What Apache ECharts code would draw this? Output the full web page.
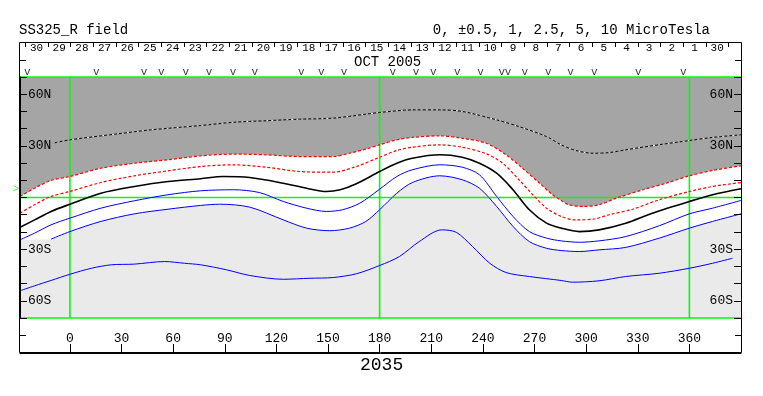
<!DOCTYPE html>
<html>
<head>
<meta charset="utf-8">
<title>SS325_R field</title>
<script src="https://cdn.jsdelivr.net/npm/echarts@6/dist/echarts.min.js"></script>
<style>
  html, body { margin: 0; padding: 0; background: #fff; }
  #chart { width: 763px; height: 396px; }
</style>
</head>
<body>
<div id="chart"></div>
<script>
// carrington longitude ticks
var lonTicks = [0, 30, 60, 90, 120, 150, 180, 210, 240, 270, 300, 330, 360];
var latLabelValues = [60, 30, -30, -60];
var latLabelText = ['60N', '30N', '30S', '60S'];
// green reference lines
var gridLons = [0, 180, 360];
var gridLats = [-70, 0, 70];
// days of central meridian passage, oct 2005 (read right to left)
var dayLabels = ['30', '29', '28', '27', '26', '25', '24', '23', '22', '21', '20', '19', '18', '17', '16',
  '15', '14', '13', '12', '11', '10', '9', '8', '7', '6', '5', '4', '3', '2', '1', '30'];
// "v" marks along the top
var footLons = [-24.8, 15.3, 43.1, 53.1, 67.3, 80.8, 94.8, 107.4, 134.5, 146.1, 159.3, 187.6, 201.1,
  211.2, 225.1, 238.7, 251.0, 254.6, 264.4, 278.0, 291.0, 304.7, 330.3, 356.5];
var earthLat = 4.6;

// contours [lon, lat]
var dottedLine = [[-10, 31.5], [0, 33.5], [28, 37.0], [47, 39.3], [76, 41.8], [95, 43.7], [114, 44.6],
  [133.5, 45.5], [153, 46.1], [172, 48.4], [180, 49.4], [199, 50.9], [215, 50.9], [228, 50.0],
  [248, 45.1], [261, 41.2], [277, 35.4], [285.5, 30.6], [294, 27.3], [304, 25.7], [313.5, 26.1],
  [323, 27.7], [342, 30.6], [360, 33.1], [373.5, 34.9], [390, 36.4]];
var redOuter = [[-29, 0.6], [-20.5, 5.4], [-11, 9.9], [0, 12.2], [18, 17.0], [37.5, 19.9], [57, 21.9],
  [76, 24.2], [95, 25.2], [114, 24.8], [133.5, 23.8], [153, 23.8], [162.5, 25.7], [172, 28.1],
  [180, 30.6], [190, 33.5], [199, 34.9], [215, 35.8], [228, 34.4], [242, 31.5], [253.5, 24.8],
  [263, 17.0], [273, 8.3], [280.5, 1.6], [285.5, -1.7], [290, -4.2], [298, -5.2], [307.5, -4.2],
  [317.5, -0.4], [333, 4.5], [346.5, 8.3], [360, 12.6], [373.5, 15.7], [390, 18.4]];
var redInner = [[-29, -9.1], [-20.5, -4.2], [-11, 0.6], [0, 3.5], [18, 8.7], [37.5, 12.6], [57, 15.5],
  [76, 18.0], [95, 19.0], [114, 17.6], [133.5, 15.1], [153, 14.7], [166.5, 18.0], [180, 23.4],
  [190, 27.3], [199, 29.2], [215, 30.6], [228, 29.2], [242, 25.4], [251.5, 19.9], [261, 10.3],
  [269, 1.6], [277, -6.2], [285.5, -11.0], [294, -13.0], [304, -12.6], [313.5, -10.0], [327, -6.8],
  [342.5, -1.3], [360, 3.5], [373.5, 6.4], [390, 8.7]];
var blackLine = [[-29, -17.3], [-20.5, -13.0], [-11, -8.1], [0, -3.9], [18, 2.5], [37.5, 6.4], [57, 9.3],
  [76, 10.9], [89, 12.2], [104.5, 11.6], [124, 8.3], [137.5, 5.4], [149, 3.5], [157, 4.5], [166.5, 8.0],
  [180, 15.1], [190, 19.9], [199, 22.8], [215, 24.8], [228, 23.4], [238, 19.9], [248, 14.1],
  [257.5, 4.5], [267, -7.1], [277, -14.9], [285.5, -17.8], [296, -19.8], [307.5, -18.8], [323, -14.9],
  [338.5, -9.1], [360, -2.3], [373.5, 1.6], [390, 5.1]];
var blueInner = [[-29, -24.6], [-20.5, -20.7], [-11, -15.9], [0, -12.0], [18, -6.2], [37.5, -1.9],
  [57, 1.6], [76, 3.9], [95, 4.5], [110, 2.9], [124, -2.3], [137.5, -6.2], [149, -8.1], [158.5, -7.1],
  [168.5, -3.3], [180, 4.8], [190, 12.2], [199, 16.1], [215, 19.0], [228, 17.6], [238, 13.2],
  [248, 0.6], [257.5, -11.0], [267, -19.8], [277, -23.6], [285.5, -25.2], [296, -26.0], [307.5, -25.2],
  [323, -22.7], [342.5, -16.4], [360, -9.5], [373.5, -6.2], [390, -1.7]];
var blueMid = [[-11, -24.2], [0, -19.8], [18, -13.9], [37.5, -9.5], [57, -6.8], [76, -4.6], [87, -3.9],
  [104.5, -5.6], [124, -13.0], [137.5, -17.8], [151, -19.3], [162.5, -17.8], [172, -13.9], [180, -7.1],
  [190, 2.5], [199, 8.7], [215, 12.6], [228, 10.3], [238, 5.4], [248, -5.2], [257.5, -16.8],
  [267, -25.6], [277, -29.5], [285.5, -30.8], [296, -31.4], [307.5, -30.4], [323, -29.0],
  [342.5, -23.6], [360, -17.8], [373.5, -13.9], [390, -9.5]];
var lightEdgeLeft = [[-29, -24.6], [-20, -24.4]];
var blueOuter = [[-29, -54.2], [-20.5, -51.3], [-11, -48.2], [0, -44.6], [12.5, -41.1], [24, -39.1],
  [37.5, -38.7], [55, -37.2], [66.5, -38.2], [76, -39.1], [91, -42.0], [104.5, -45.3], [124, -47.5],
  [139.5, -46.9], [153, -46.5], [166.5, -44.3], [180, -39.5], [191.5, -34.3], [203, -25.6],
  [216, -18.8], [224.5, -20.2], [234, -28.5], [244, -38.2], [253.5, -43.6], [267, -45.9],
  [285.5, -48.2], [292, -49.2], [307.5, -48.4], [323, -45.9], [342.5, -44.0], [360, -41.1],
  [373.5, -38.2], [385, -35.3]];

var FONT = 'Liberation Mono';
var GREEN = '#00ff00';

function curve(data, color, width, type, z) {
  return {
    type: 'line', data: data, smooth: 0.3, symbol: 'none', silent: true, z: z || 3,
    lineStyle: { color: color, width: width, type: type || 'solid' }
  };
}

function greenLine(data) {
  return {
    type: 'line', data: data, symbol: 'none', silent: true, z: 2, clip: false,
    lineStyle: { color: GREEN, width: 1.6 }
  };
}

function latLabel(v) {
  var i = latLabelValues.indexOf(v);
  return i < 0 ? '' : latLabelText[i];
}

var myChart = echarts.init(document.getElementById('chart'));

var series = [
  // dark region above the outer red line
  {
    type: 'line', data: redOuter, smooth: 0.3, symbol: 'none', silent: true, z: 1,
    lineStyle: { opacity: 0 }, areaStyle: { color: '#a5a5a5', origin: 'end', opacity: 1 }
  },
  // light region below the middle blue line
  {
    type: 'line', data: lightEdgeLeft.concat(blueMid), smooth: 0.3, symbol: 'none', silent: true, z: 1,
    lineStyle: { opacity: 0 }, areaStyle: { color: '#eaeaea', origin: 'start', opacity: 1 }
  }
];
gridLons.forEach(function (l) { series.push(greenLine([[l, -70], [l, 70]])); });
gridLats.forEach(function (b) { series.push(greenLine([[-29, b], [390, b]])); });
series.push(
  curve(dottedLine, '#000', 1, 'solid'),
  curve(dottedLine, '#fff', 1, [2, 3], 4),
  curve(redOuter, '#ff0000', 1.2, [3, 2]),
  curve(redInner, '#ff0000', 1.2, [3, 2]),
  curve(blackLine, '#000', 1.6, 'solid'),
  curve(blueInner, '#0000ff', 1, 'solid'),
  curve(blueMid, '#0000ff', 1, 'solid'),
  curve(blueOuter, '#0000ff', 1, 'solid'),
  {
    type: 'scatter', clip: false, silent: true, symbolSize: 1, z: 6,
    itemStyle: { color: 'rgba(0,0,0,0)' },
    data: footLons.map(function (l) { return [l, 72.6]; }),
    label: { show: true, position: 'inside', formatter: 'v', fontFamily: FONT, fontSize: 11, color: '#000' }
  },
  {
    type: 'scatter', clip: false, silent: true, symbolSize: 1, z: 6,
    itemStyle: { color: 'rgba(0,0,0,0)' },
    data: [[-31.3, earthLat]],
    label: { show: true, position: 'inside', formatter: '>', fontFamily: FONT, fontSize: 10, color: GREEN }
  }
);

var option = {
  animation: false,
  backgroundColor: '#fff',
  textStyle: { fontFamily: FONT, color: '#000' },
  title: [
    { text: 'SS325_R field', left: 14, top: 18, textStyle: { fontFamily: FONT, fontSize: 14, fontWeight: 'normal', color: '#000' } },
    { text: '0, \u00b10.5, 1, 2.5, 5, 10 MicroTesla', right: 48, top: 18, textStyle: { fontFamily: FONT, fontSize: 14, fontWeight: 'normal', color: '#000' } }
  ],
  grid: [
    { left: 20, top: 77, width: 721, height: 241 },
    { left: 25.15, top: 42, width: 703.4, height: 1 }
  ],
  xAxis: [
    {
      type: 'value', min: -29, max: 390, position: 'bottom', offset: 35, z: 5,
      axisLine: { show: true, onZero: false, lineStyle: { color: '#000', width: 1 } },
      axisTick: { show: true, inside: true, length: 9, customValues: lonTicks, lineStyle: { color: '#000' } },
      axisLabel: { inside: true, margin: 8, customValues: lonTicks, fontFamily: FONT, fontSize: 13, color: '#000' },
      splitLine: { show: false }
    },
    {
      gridIndex: 1, type: 'category', position: 'top', data: dayLabels, boundaryGap: true,
      axisLine: { show: false, onZero: false },
      axisTick: { show: true, inside: true, length: 5, lineStyle: { color: '#000' } },
      axisLabel: { inside: true, margin: 1, interval: 0, fontFamily: FONT, fontSize: 11, color: '#000' }
    }
  ],
  yAxis: [
    {
      type: 'value', min: -70, max: 70, interval: 10, position: 'left', z: 5,
      axisLine: { show: true, onZero: false, lineStyle: { color: '#000' } },
      axisTick: { show: true, inside: true, length: 7, lineStyle: { color: '#000' } },
      axisLabel: { inside: true, margin: 8, fontFamily: FONT, fontSize: 13, color: '#000', formatter: latLabel },
      splitLine: { show: false }
    },
    {
      type: 'value', min: -70, max: 70, interval: 10, position: 'right', z: 5,
      axisLine: { show: true, onZero: false, lineStyle: { color: '#000' } },
      axisTick: { show: true, inside: true, length: 7, lineStyle: { color: '#000' } },
      axisLabel: { inside: true, margin: 8, fontFamily: FONT, fontSize: 13, color: '#000', formatter: latLabel },
      splitLine: { show: false }
    },
    { gridIndex: 1, type: 'value', show: false }
  ],
  series: series,
  graphic: [
    { type: 'rect', z: 10, silent: true, shape: { x: 19.5, y: 42.5, width: 722, height: 310 },
      style: { fill: null, stroke: '#000', lineWidth: 1 } },
    { type: 'line', z: 10, silent: true, shape: { x1: 20, y1: 60.5, x2: 26, y2: 60.5 }, style: { stroke: '#000' } },
    { type: 'line', z: 10, silent: true, shape: { x1: 735, y1: 60.5, x2: 741, y2: 60.5 }, style: { stroke: '#000' } },
    { type: 'line', z: 10, silent: true, shape: { x1: 735, y1: 77.5, x2: 741, y2: 77.5 }, style: { stroke: '#000' } },
    { type: 'line', z: 10, silent: true, shape: { x1: 20, y1: 335.5, x2: 26, y2: 335.5 }, style: { stroke: '#000' } },
    { type: 'line', z: 10, silent: true, shape: { x1: 735, y1: 335.5, x2: 741, y2: 335.5 }, style: { stroke: '#000' } },
    { type: 'text', z: 10, silent: true, left: 354, top: 55,
      style: { text: 'OCT 2005', font: '14px "Liberation Mono"', fill: '#000' } },
    { type: 'text', z: 10, silent: true, left: 360, top: 356,
      style: { text: '2035', font: '18px "Liberation Mono"', fill: '#000' } }
  ]
};

myChart.setOption(option);
</script>
</body>
</html>
